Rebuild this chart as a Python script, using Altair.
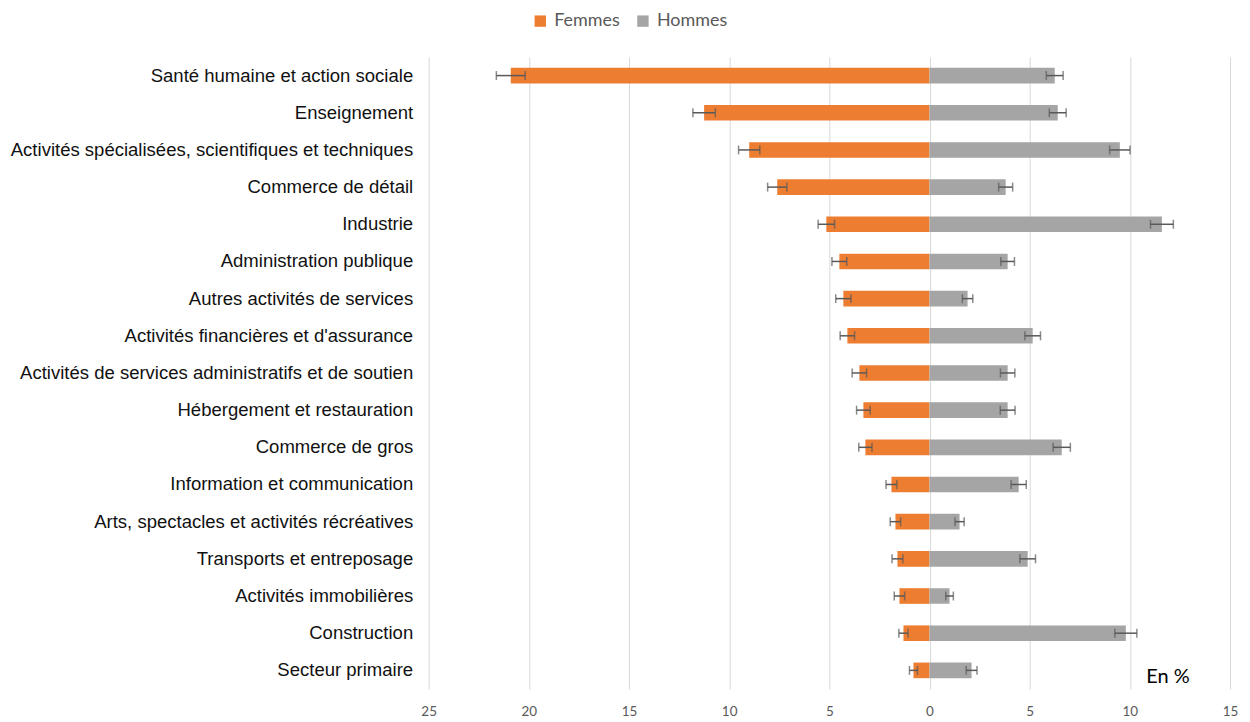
import altair as alt
import pandas as pd

categories = [
    "Santé humaine et action sociale",
    "Enseignement",
    "Activités spécialisées, scientifiques et techniques",
    "Commerce de détail",
    "Industrie",
    "Administration publique",
    "Autres activités de services",
    "Activités financières et d'assurance",
    "Activités de services administratifs et de soutien",
    "Hébergement et restauration",
    "Commerce de gros",
    "Information et communication",
    "Arts, spectacles et activités récréatives",
    "Transports et entreposage",
    "Activités immobilières",
    "Construction",
    "Secteur primaire",
]
femmes = [20.9, 11.25, 9.0, 7.6, 5.15, 4.5, 4.3, 4.1, 3.5, 3.3, 3.2, 1.9, 1.7, 1.6, 1.5, 1.3, 0.8]
femmes_err = [0.72, 0.56, 0.53, 0.48, 0.41, 0.37, 0.38, 0.36, 0.36, 0.34, 0.33, 0.27, 0.26, 0.27, 0.26, 0.23, 0.2]
hommes = [6.25, 6.4, 9.5, 3.8, 11.6, 3.9, 1.9, 5.15, 3.9, 3.9, 6.6, 4.45, 1.5, 4.9, 1.0, 9.8, 2.1]
hommes_err = [0.42, 0.42, 0.51, 0.35, 0.57, 0.34, 0.26, 0.39, 0.36, 0.37, 0.43, 0.38, 0.23, 0.39, 0.19, 0.55, 0.27]
series = ["Femmes", "Hommes"]
colors = ["#ED7D31", "#A5A5A5"]

rows = []
for c, f, fe, h, he in zip(categories, femmes, femmes_err, hommes, hommes_err):
    rows.append({"cat": c, "sexe": "Femmes", "value": -f, "lo": -f - fe, "hi": -f + fe})
    rows.append({"cat": c, "sexe": "Hommes", "value": h, "lo": h - he, "hi": h + he})
df = pd.DataFrame(rows)

y = alt.Y(
    "cat:N",
    sort=categories,
    scale=alt.Scale(paddingInner=0.58, paddingOuter=0.29),
    axis=alt.Axis(
        title=None, ticks=False, domain=False, labelPadding=16,
        labelFontSize=18.6, labelFont="Liberation Sans", labelColor="#111111",
        labelLimit=700,
    ),
)
xscale = alt.Scale(domain=[-25, 15], nice=False)

base = alt.Chart(df)

bars = base.mark_bar().encode(
    x=alt.X(
        "value:Q",
        scale=xscale,
        axis=alt.Axis(
            values=list(range(-25, 16, 5)),
            labelExpr="format(abs(datum.value), 'd')",
            grid=True, gridColor="#D9D9D9", gridWidth=1,
            domain=False, ticks=False, labelPadding=16, labelFlush=False,
            labelFontSize=13.5, labelFont="Lato", labelColor="#595959",
            title=None,
        ),
    ),
    y=y,
    color=alt.Color(
        "sexe:N",
        scale=alt.Scale(domain=series, range=colors),
        legend=alt.Legend(
            title=None, orient="none", legendX=103, legendY=-45,
            direction="horizontal", symbolType="square", symbolSize=130,
            symbolStrokeWidth=0, labelFontSize=18, labelFont="Lato",
            labelColor="#595959", columnPadding=14, labelOffset=5, padding=0,
        ),
    ),
)

rule = base.mark_rule(color="#595959", strokeWidth=1.5).encode(
    x=alt.X("lo:Q", scale=xscale), x2="hi:Q", y=y
)
cap_lo = base.mark_tick(color="#595959", thickness=1.5, size=9).encode(
    x=alt.X("lo:Q", scale=xscale), y=y
)
cap_hi = base.mark_tick(color="#595959", thickness=1.5, size=9).encode(
    x=alt.X("hi:Q", scale=xscale), y=y
)

note = alt.Chart(pd.DataFrame({"t": ["En %"]})).mark_text(
    fontSize=20, font="Lato", color="#000000", dy=7
).encode(
    x=alt.datum(11.9),
    y=alt.datum(categories[-1]),
    text="t:N",
)

chart = (
    alt.layer(bars, rule, cap_lo, cap_hi, note)
    .properties(
        width=804, height=634,
        autosize=alt.AutoSizeParams(type="none"),
        padding={"left": 422, "top": 48, "right": 12, "bottom": 32},
    )
    .configure_view(stroke=None)
)

chart.save("out.html", embed_options={"renderer": "svg", "actions": False})
